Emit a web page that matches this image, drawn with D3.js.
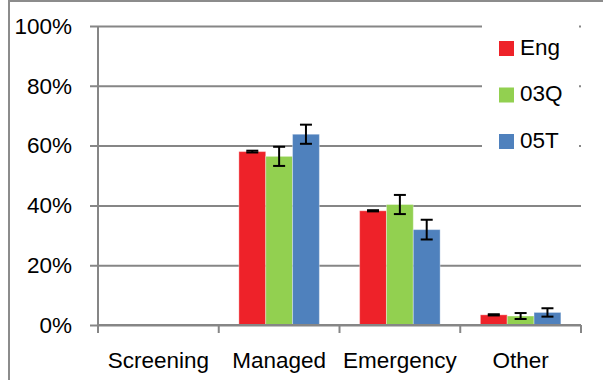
<!DOCTYPE html>
<html>
<head>
<meta charset="utf-8">
<script src="https://d3js.org/d3.v7.min.js"></script>
<style>
  body { margin: 0; background: #fff; }
  text { font-family: 'Liberation Sans', Arial, sans-serif; fill: #000; }
</style>
</head>
<body>
<svg width="603" height="380"></svg>
<script>
  // Data (percent)
  const categories = ['Screening', 'Managed', 'Emergency', 'Other'];
  const seriesNames = ['Eng', '03Q', '05T'];
  const seriesColors = ['#ee2229', '#92d050', '#4f81bd'];
  const engValues = [0, 58.0, 38.2, 3.4];
  const q03Values = [0, 56.4, 40.3, 3.0];
  const t05Values = [0, 63.8, 31.9, 4.2];
  const engErrors = [0, 0.3, 0.2, 0.2];
  const q03Errors = [0, 3.2, 3.2, 1.0];
  const t05Errors = [0, 3.2, 3.3, 1.4];
  const yTicks = [0, 20, 40, 60, 80, 100];

  const values = [engValues, q03Values, t05Values];
  const errors = [engErrors, q03Errors, t05Errors];

  const margin = {top: 26, right: 22, bottom: 55, left: 98};
  const width = 603 - margin.left - margin.right;
  const height = 380 - margin.top - margin.bottom;
  const fontSize = 22.5;

  const svg = d3.select('svg');

  // outer chart border (only top and left visible)
  svg.append('path')
      .attr('d', 'M9,380 V1 H603')
      .attr('fill', 'none')
      .attr('stroke', '#8c8c8c')
      .attr('stroke-width', 2);

  const chart = svg.append('g').attr('transform', 'translate(' + margin.left + ',' + margin.top + ')');

  const x = d3.scaleBand().domain(categories).range([0, width]);
  const x1 = d3.scaleBand().domain(seriesNames).range([x.bandwidth() / 6, x.bandwidth() * 5 / 6]);
  const y = d3.scaleLinear().domain([0, 100]).range([height, 0]);

  // gridlines + left ticks
  const yAxis = d3.axisLeft(y).tickValues(yTicks).tickSize(-width).tickPadding(26)
      .tickFormat(d => d + '%');
  const yg = chart.append('g').call(yAxis);
  yg.select('.domain').remove();
  yg.selectAll('.tick line')
      .attr('x1', -8)
      .attr('stroke', '#868686')
      .attr('stroke-width', 2);
  yg.selectAll('.tick text')
      .attr('font-size', fontSize)
      .attr('font-family', "'Liberation Sans', Arial, sans-serif")
      .attr('fill', '#000');

  // vertical axis line
  chart.append('line')
      .attr('x1', 0).attr('x2', 0)
      .attr('y1', y(100)).attr('y2', y(0))
      .attr('stroke', '#868686')
      .attr('stroke-width', 2);

  // legend box hides the gridlines behind it
  const legend = chart.append('g').attr('transform', 'translate(384,0)');
  legend.append('rect')
      .attr('x', 0).attr('y', -6)
      .attr('width', 97).attr('height', 170)
      .attr('fill', '#fff');

  // bars
  const groups = chart.selectAll('.series')
      .data(seriesNames).enter()
      .append('g')
      .attr('fill', (d, i) => seriesColors[i]);

  groups.each(function(name, si) {
    const g = d3.select(this);
    const rows = categories.map((c, ci) => ({cat: c, v: values[si][ci], e: errors[si][ci]}))
        .filter(r => r.v > 0);
    g.selectAll('rect')
        .data(rows).enter()
        .append('rect')
        .attr('x', r => x(r.cat) + x1(name))
        .attr('width', x1.bandwidth())
        .attr('y', r => y(r.v))
        .attr('height', r => y(0) - y(r.v))
        .attr('stroke', '#fff')
        .attr('stroke-opacity', 0.35)
        .attr('stroke-width', 1);

    // error bars
    const eb = g.selectAll('.err')
        .data(rows).enter()
        .append('g')
        .attr('stroke', '#000')
        .attr('stroke-width', 2);
    const cx = r => x(r.cat) + x1(name) + x1.bandwidth() / 2;
    eb.append('line')
        .attr('x1', cx).attr('x2', cx)
        .attr('y1', r => y(r.v + r.e)).attr('y2', r => y(r.v - r.e));
    eb.append('line')
        .attr('x1', r => cx(r) - 6).attr('x2', r => cx(r) + 6)
        .attr('y1', r => y(r.v + r.e)).attr('y2', r => y(r.v + r.e));
    eb.append('line')
        .attr('x1', r => cx(r) - 6).attr('x2', r => cx(r) + 6)
        .attr('y1', r => y(r.v - r.e)).attr('y2', r => y(r.v - r.e));
  });

  // bottom axis
  const xAxis = d3.axisBottom(x).tickSize(0).tickPadding(20);
  const xg = chart.append('g').attr('transform', 'translate(0,' + height + ')').call(xAxis);
  xg.select('.domain').attr('stroke', '#868686').attr('stroke-width', 2)
      .attr('d', 'M0,0H' + width);
  xg.selectAll('.tick text')
      .attr('font-size', fontSize)
      .attr('font-family', "'Liberation Sans', Arial, sans-serif")
      .attr('fill', '#000')
      .attr('dy', '1em');
  // category separator ticks at band edges
  xg.selectAll('.sep')
      .data(categories.concat(['end'])).enter()
      .append('line')
      .attr('x1', (d, i) => i * x.step()).attr('x2', (d, i) => i * x.step())
      .attr('y1', 0).attr('y2', 8)
      .attr('stroke', '#868686')
      .attr('stroke-width', 2);

  // legend entries
  const items = legend.selectAll('.item')
      .data(seriesNames).enter()
      .append('g')
      .attr('transform', (d, i) => 'translate(17,' + (15 + i * 46.5) + ')');
  items.append('rect')
      .attr('width', 15).attr('height', 15)
      .attr('fill', (d, i) => seriesColors[i]);
  items.append('text')
      .attr('x', 21).attr('y', 8)
      .attr('dominant-baseline', 'middle')
      .attr('font-size', fontSize)
      .text(d => d);
</script>
</body>
</html>
